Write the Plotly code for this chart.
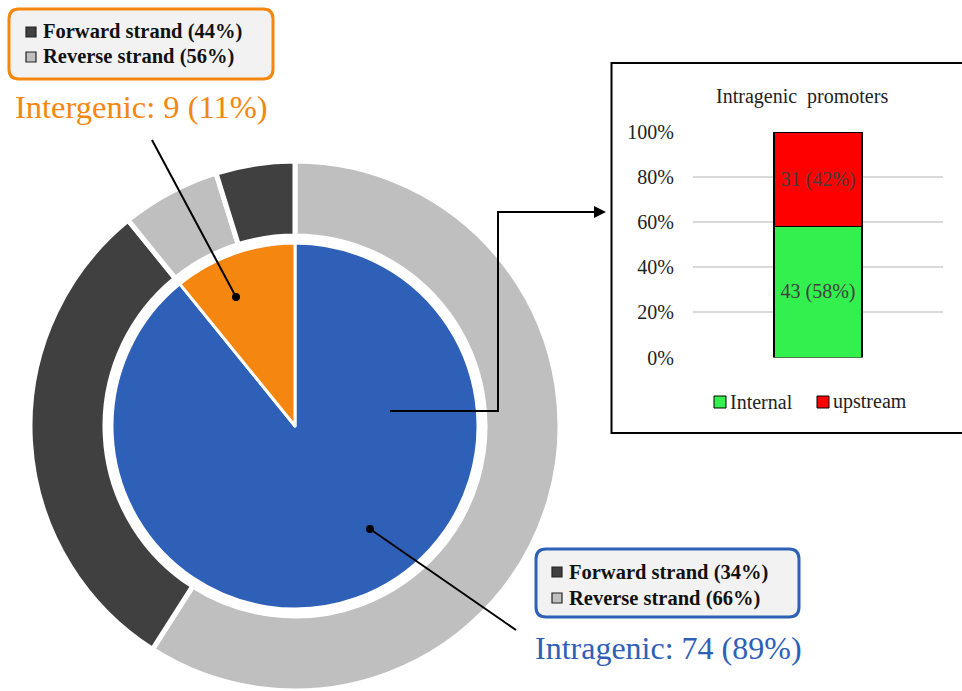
import plotly.graph_objects as go

W, H = 962, 691

# ---- data ----
inner_labels = ["Intragenic", "Intergenic"]
inner_values = [74, 9]
inner_colors = ["#2e60b8", "#f5860f"]

outer_labels = ["Intragenic reverse", "Intragenic forward", "Intergenic reverse", "Intergenic forward"]
outer_values = [49, 25, 5, 4]
outer_colors = ["#bfbfbf", "#404040", "#bfbfbf", "#404040"]

bar_category = ["Intragenic promoters"]
bar_names = ["Internal", "upstream"]
bar_values = [43, 31]
bar_colors = ["#33f04f", "#ff0000"]

legend_intergenic = ["Forward strand (44%)", "Reverse strand (56%)"]
legend_intragenic = ["Forward strand (34%)", "Reverse strand (66%)"]


def px(x):
    return x / W


def py(y):
    return min(1.0, max(0.0, 1 - y / H))


fig = go.Figure()

# outer ring
cx, cy, R, r_in, r_pie = 295, 426, 265, 190, 183
fig.add_trace(go.Pie(
    labels=outer_labels, values=outer_values, sort=False, direction="clockwise",
    rotation=0, hole=r_in / R, textinfo="none", showlegend=False, automargin=False,
    marker=dict(colors=outer_colors, line=dict(color="white", width=5)),
    domain=dict(x=[px(cx - R), px(cx + R)], y=[py(cy + R), py(cy - R)]),
))
# inner pie
fig.add_trace(go.Pie(
    labels=inner_labels, values=inner_values, sort=False, direction="clockwise",
    rotation=0, textinfo="none", showlegend=False, automargin=False,
    marker=dict(colors=inner_colors, line=dict(color="white", width=3)),
    domain=dict(x=[px(cx - r_pie), px(cx + r_pie)], y=[py(cy + r_pie), py(cy - r_pie)]),
))

# stacked bar inset
total = sum(bar_values)
for name, v, c in zip(bar_names, bar_values, bar_colors):
    fig.add_trace(go.Bar(
        x=bar_category, y=[v], name=name, marker=dict(color=c, line=dict(color="black", width=1.5)),
        text=[f"{v} ({round(100 * v / total)}%)"], textposition="inside", insidetextanchor="middle",
        textfont=dict(family="Liberation Serif", size=20, color="#404040"),
        width=0.353, showlegend=False, xaxis="x", yaxis="y",
    ))

fig.update_layout(
    width=W, height=H, margin=dict(l=0, r=0, t=0, b=0, pad=0, autoexpand=False),
    paper_bgcolor="white", plot_bgcolor="white",
    barmode="stack", barnorm="percent",
    xaxis=dict(domain=[px(693), px(943)], showticklabels=False, showgrid=False, zeroline=False,
               range=[-0.5, 0.5], automargin=False),
    yaxis=dict(domain=[py(357.5), py(132)], range=[0, 100], dtick=20, ticksuffix="%",
               showgrid=True, gridcolor="#d9d9d9", gridwidth=1.5, zeroline=False, automargin=False,
               tickfont=dict(family="Liberation Serif", size=20, color="#222"),
               ticks="", ticklabelstandoff=18),
    showlegend=False,
)

shapes = []
annotations = []

# inset border
shapes.append(dict(type="rect", xref="paper", yref="paper", x0=px(611.5), x1=px(964), y0=py(433), y1=py(63),
                   line=dict(color="black", width=2), layer="below"))
annotations.append(dict(text="Intragenic  promoters", x=px(802), y=py(97), xref="paper", yref="paper",
                        xanchor="center", yanchor="middle", showarrow=False,
                        font=dict(family="Liberation Serif", size=20, color="#222")))
# bar legend
for i, (name, c) in enumerate(zip(bar_names, bar_colors)):
    x0 = [714, 817][i]
    shapes.append(dict(type="rect", xref="paper", yref="paper", x0=px(x0), x1=px(x0 + 12),
                       y0=py(408), y1=py(396), fillcolor=c, line=dict(color="black", width=1)))
    annotations.append(dict(text=name, x=px(x0 + 14), y=py(402), xref="paper", yref="paper",
                            xanchor="left", yanchor="middle", showarrow=False,
                            font=dict(family="Liberation Serif", size=20, color="#222")))


def rounded_box(x0, y0, x1, y1, rad, color):
    p = (f"M {px(x0 + rad)},{py(y0)} L {px(x1 - rad)},{py(y0)} Q {px(x1)},{py(y0)} {px(x1)},{py(y0 + rad)} "
         f"L {px(x1)},{py(y1 - rad)} Q {px(x1)},{py(y1)} {px(x1 - rad)},{py(y1)} "
         f"L {px(x0 + rad)},{py(y1)} Q {px(x0)},{py(y1)} {px(x0)},{py(y1 - rad)} "
         f"L {px(x0)},{py(y0 + rad)} Q {px(x0)},{py(y0)} {px(x0 + rad)},{py(y0)} Z")
    return dict(type="path", path=p, xref="paper", yref="paper", fillcolor="#f2f2f2",
                line=dict(color=color, width=3))


def strand_legend(x0, ys, texts):
    for y, t, c in zip(ys, texts, ["#404040", "#bfbfbf"]):
        shapes.append(dict(type="rect", xref="paper", yref="paper", x0=px(x0), x1=px(x0 + 10),
                           y0=py(y + 5), y1=py(y - 5), fillcolor=c, line=dict(color="#222", width=1.2)))
        annotations.append(dict(text=f"<b>{t}</b>", x=px(x0 + 15), y=py(y), xref="paper", yref="paper",
                                xanchor="left", yanchor="middle", showarrow=False,
                                font=dict(family="Liberation Serif", size=20.5, color="#111")))


# intergenic legend box
shapes.append(rounded_box(9, 9, 273, 79, 10, "#f5860f"))
strand_legend(26, [32, 57], legend_intergenic)
annotations.append(dict(text=f"{inner_labels[1]}: {inner_values[1]} ({round(100 * inner_values[1] / sum(inner_values))}%)",
                        x=px(13), y=py(107), xref="paper", yref="paper", xanchor="left", yanchor="middle",
                        showarrow=False, font=dict(family="Liberation Serif", size=32.5, color="#f5860f")))

# intragenic legend box
shapes.append(rounded_box(536, 549, 799, 617, 10, "#2e60b8"))
strand_legend(552, [572, 598], legend_intragenic)
annotations.append(dict(text=f"{inner_labels[0]}: {inner_values[0]} ({round(100 * inner_values[0] / sum(inner_values))}%)",
                        x=px(533), y=py(648), xref="paper", yref="paper", xanchor="left", yanchor="middle",
                        showarrow=False, font=dict(family="Liberation Serif", size=32, color="#2e60b8")))

# leader lines with dots
for (xa, ya, xb, yb) in [(152, 140, 236, 297), (370, 529, 516, 630)]:
    shapes.append(dict(type="line", xref="paper", yref="paper", x0=px(xa), y0=py(ya), x1=px(xb), y1=py(yb),
                       line=dict(color="black", width=2)))
for (xd, yd) in [(236, 297), (370, 529)]:
    shapes.append(dict(type="circle", xref="paper", yref="paper", x0=px(xd - 4), x1=px(xd + 4),
                       y0=py(yd + 4), y1=py(yd - 4), fillcolor="black", line=dict(color="black", width=0)))

# connector arrow from pie to inset
shapes.append(dict(type="path", xref="paper", yref="paper",
                   path=f"M {px(390)},{py(411)} L {px(498)},{py(411)} L {px(498)},{py(212)} L {px(595)},{py(212)}",
                   line=dict(color="black", width=2)))
annotations.append(dict(x=px(606), y=py(212), ax=-16, ay=0, xref="paper", yref="paper",
                        axref="pixel", ayref="pixel", text="", showarrow=True, arrowhead=2, arrowsize=1.2,
                        arrowwidth=2, arrowcolor="black"))

fig.update_layout(shapes=shapes, annotations=annotations)
fig.write_html("out.html")
